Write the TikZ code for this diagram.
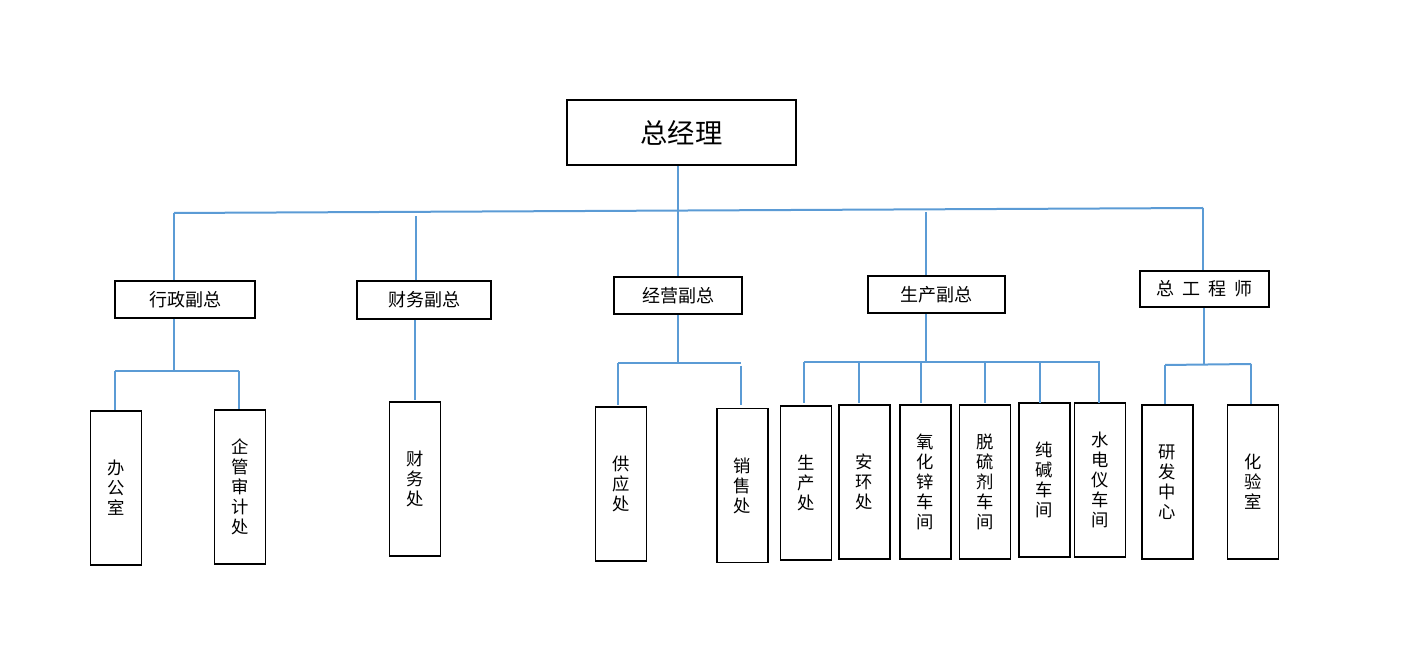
\documentclass[tikz,border=0pt]{standalone}
\usepackage{fontspec}
\newfontfamily\cjk{Noto Sans CJK SC}
\definecolor{lineblue}{RGB}{91,155,213}
\begin{document}
\begin{tikzpicture}[x=0.75pt,y=-0.75pt,
  box/.style={draw=black,line width=1.4pt,inner sep=0pt,font=\cjk\fontsize{13.5}{15}\selectfont},
  top/.style={box,font=\cjk\fontsize{20.5}{22}\selectfont},
  vbox/.style={box,minimum width=38.25pt,minimum height=115.5pt,align=center,font=\cjk\fontsize{13}{15}\selectfont},
  link/.style={draw=lineblue,line width=1.5pt}]
\useasboundingbox (0,0) rectangle (1410,666);
% top
\node[top,minimum width=171.75pt,minimum height=48.75pt] (zjl) at (681.5,132.5) {总经理};
% deputies
\node[box,minimum width=105pt,minimum height=27.75pt] (xz) at (185,299.5) {行政副总};
\node[box,minimum width=100.5pt,minimum height=28.5pt] (cw) at (424,300) {财务副总};
\node[box,minimum width=96pt,minimum height=27.75pt] (jy) at (678,295.5) {经营副总};
\node[box,minimum width=102.75pt,minimum height=27.75pt] (sc) at (936.5,294.5) {生产副总};
\node[box,minimum width=96.75pt,minimum height=27pt] (zg) at (1204.5,289) {总\hspace{0.45em}工\hspace{0.45em}程\hspace{0.45em}师};
% departments
\node[vbox] (bgs) at (116,488) {办\\公\\室};
\node[vbox] (qg) at (240,487) {企\\管\\审\\计\\处};
\node[vbox] (cwc) at (415,479) {财\\务\\处};
\node[vbox] (gy) at (621,484) {供\\应\\处};
\node[vbox] (xs) at (742.5,485.5) {销\\售\\处};
\node[vbox] (scc) at (806,483) {生\\产\\处};
\node[vbox] (ah) at (864.5,482) {安\\环\\处};
\node[vbox] (yhx) at (925.5,482) {氧\\化\\锌\\车\\间};
\node[vbox] (tlj) at (985,482) {脱\\硫\\剂\\车\\间};
\node[vbox] (cj) at (1044.5,480) {纯\\碱\\车\\间};
\node[vbox] (sdy) at (1100,480) {水\\电\\仪\\车\\间};
\node[vbox] (yf) at (1167.5,482) {研\\发\\中\\心};
\node[vbox] (hys) at (1253,482) {化\\验\\室};
% level 1 connectors
\coordinate (bl) at (174,213);
\coordinate (br) at (1203,208);
\coordinate (cwt) at (416,216);
\coordinate (sct) at (926,212);
\draw[link] (bl) -- (br);
\draw[link] (zjl.south -| jy.north) -- (jy.north);
\draw[link] (bl) -- (bl |- xz.north);
\draw[link] (cwt) -- (cwt |- cw.north);
\draw[link] (sct) -- (sct |- sc.north);
\draw[link] (br) -- (br |- zg.north);
% xingzheng
\coordinate (xzj) at (174,371);
\coordinate (xzl) at (115,371);
\coordinate (xzr) at (239,371);
\draw[link] (bl |- xz.south) -- (xzj);
\draw[link] (xzl) -- (xzr);
\draw[link] (xzl) -- (xzl |- bgs.north);
\draw[link] (xzr) -- (xzr |- qg.north);
% caiwu
\coordinate (cwb) at (415,400);
\draw[link] (cwb |- cw.south) -- (cwb);
% jingying
\coordinate (jyj) at (678,363);
\coordinate (jyl) at (618,363);
\coordinate (jyr) at (741,363);
\coordinate (jyr2) at (741,366);
\draw[link] (jy.south) -- (jyj);
\draw[link] (jyl) -- (jyr);
\draw[link] (jyl) -- (618,405) coordinate (jylb);
\draw[link] (jyr2) -- (741,405) coordinate (jyrb);
% shengchan
\coordinate (scj) at (926,362);
\coordinate (scl) at (804,362);
\coordinate (scr) at (1100,362);
\draw[link] (sct |- sc.south) -- (scj);
\draw[link] (scl) -- (scr);
\foreach \xx/\nn in {804/scc,859/ah,921/yhx,985/tlj,1040/cj,1099/sdy}{
  \draw[link] (\xx,362) -- (\xx,403);
}
% zonggong
\coordinate (zgj) at (1204,365);
\coordinate (zgl) at (1165,365);
\coordinate (zgr) at (1251,364);
\draw[link] (zg.south -| zgj) -- (zgj);
\draw[link] (zgl) -- (zgr);
\draw[link] (zgl) -- (zgl |- yf.north);
\draw[link] (zgr) -- (zgr |- hys.north);
\end{tikzpicture}
\end{document}
